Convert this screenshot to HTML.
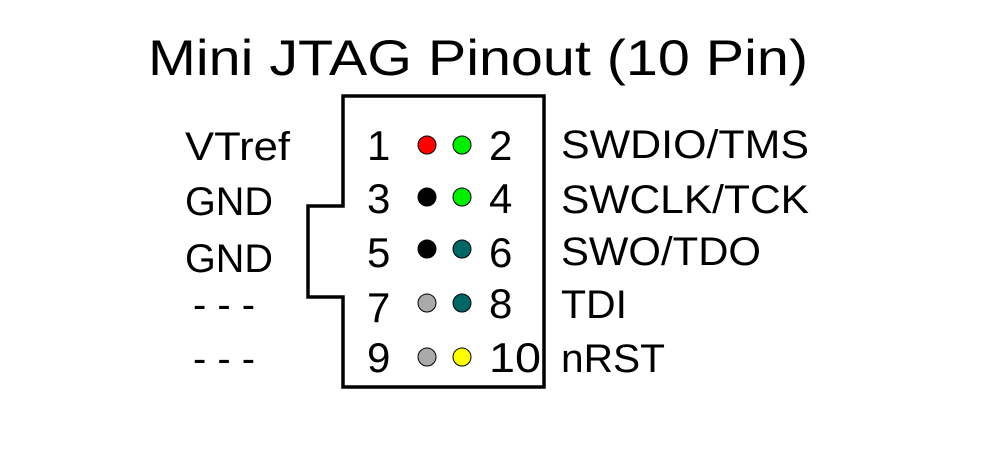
<!DOCTYPE html>
<html><head><meta charset="utf-8"><style>
html,body{margin:0;padding:0;background:#fff;}
svg{display:block;}
text{font-family:"Liberation Sans",sans-serif;fill:#000;}
</style></head><body>
<svg width="1000" height="467" viewBox="0 0 1000 467" xmlns="http://www.w3.org/2000/svg">
<rect width="1000" height="467" fill="#fff"/>
<text x="148" y="75" font-size="50" textLength="660" lengthAdjust="spacingAndGlyphs">Mini JTAG Pinout (10 Pin)</text>
<path d="M343 96 H544 V387 H343 V297 H308 V206 H343 Z" fill="none" stroke="#000" stroke-width="3.5" stroke-linejoin="miter"/>
<g stroke="#000" stroke-width="1">
<circle cx="427" cy="145" r="9" fill="#ff0000"/>
<circle cx="462" cy="145" r="9" fill="#00ee00"/>
<circle cx="427" cy="197" r="9" fill="#000"/>
<circle cx="462" cy="197" r="9" fill="#00ee00"/>
<circle cx="427" cy="249" r="9" fill="#000"/>
<circle cx="462" cy="249" r="9" fill="#006666"/>
<circle cx="427" cy="303" r="9" fill="#aaaaaa"/>
<circle cx="462" cy="303" r="9" fill="#006666"/>
<circle cx="427" cy="357" r="9" fill="#aaaaaa"/>
<circle cx="462" cy="357" r="9" fill="#ffff00"/>
</g>
<g font-size="42">
<text x="367" y="160">1</text>
<text x="367" y="213">3</text>
<text x="367" y="267">5</text>
<text x="367" y="322">7</text>
<text x="367" y="372">9</text>
<text x="489" y="160">2</text>
<text x="489" y="213">4</text>
<text x="489" y="267">6</text>
<text x="489" y="318">8</text>
<text x="489" y="372" textLength="52" lengthAdjust="spacingAndGlyphs">10</text>
</g>
<g font-size="40">
<text x="185" y="160" textLength="105" lengthAdjust="spacingAndGlyphs">VTref</text>
<text x="185" y="215" textLength="88" lengthAdjust="spacingAndGlyphs">GND</text>
<text x="185" y="272" textLength="88" lengthAdjust="spacingAndGlyphs">GND</text>
<text x="193" y="318" textLength="62" lengthAdjust="spacingAndGlyphs">- - -</text>
<text x="193" y="372" textLength="62" lengthAdjust="spacingAndGlyphs">- - -</text>
<text x="561" y="158" textLength="248" lengthAdjust="spacingAndGlyphs">SWDIO/TMS</text>
<text x="561" y="213" textLength="248" lengthAdjust="spacingAndGlyphs">SWCLK/TCK</text>
<text x="561" y="265" textLength="200" lengthAdjust="spacingAndGlyphs">SWO/TDO</text>
<text x="561" y="318" textLength="66" lengthAdjust="spacingAndGlyphs">TDI</text>
<text x="561" y="372" textLength="104" lengthAdjust="spacingAndGlyphs">nRST</text>
</g>
</svg>
</body></html>
